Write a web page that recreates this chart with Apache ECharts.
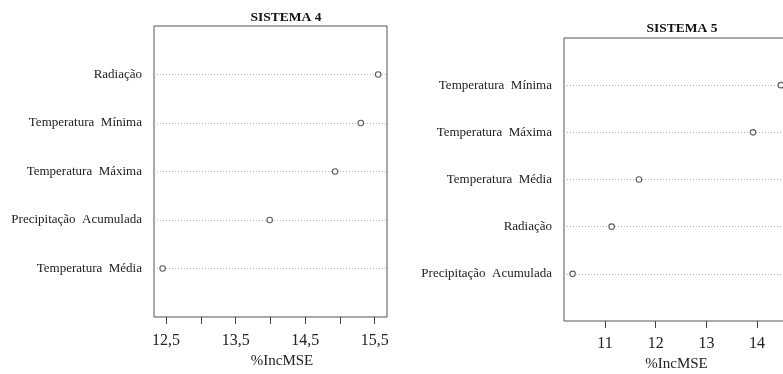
<!DOCTYPE html>
<html>
<head>
<meta charset="utf-8">
<script src="https://cdn.jsdelivr.net/npm/echarts@6/dist/echarts.min.js"></script>
<style>html,body{margin:0;padding:0;background:#fff;}#c{width:783px;height:374px;}</style>
</head>
<body>
<div id="c"></div>
<script>
// Panel 1 (top to bottom)
const cats4 = ['Radiação', 'Temperatura  Mínima', 'Temperatura  Máxima', 'Precipitação  Acumulada', 'Temperatura  Média'];
const vals4 = [15.55, 15.30, 14.93, 13.99, 12.45];
const ticks4 = [12.5, 13, 13.5, 14, 14.5, 15, 15.5];
const labels4 = [12.5, 13.5, 14.5, 15.5];
// Panel 2 (top to bottom)
const cats5 = ['Temperatura  Mínima', 'Temperatura  Máxima', 'Temperatura  Média', 'Radiação', 'Precipitação  Acumulada'];
const vals5 = [14.47, 13.92, 11.67, 11.13, 10.36];
const ticks5 = [11, 12, 13, 14];
const labels5 = [11, 12, 13, 14];

const font = '"Liberation Serif", "DejaVu Serif", serif';
const fmtNum = v => String(v).replace('.', ',');

function yAxis(idx, cats) {
  const n = cats.length;
  return {
    type: 'value', gridIndex: idx, min: 0, max: n + 1,
    axisLine: { show: false },
    axisTick: { show: false, customValues: cats.map((c, i) => n - i) },
    axisLabel: {
      customValues: cats.map((c, i) => n - i),
      formatter: v => cats[n - v] || '',
      fontFamily: font, fontSize: 13, color: '#222', margin: 12
    },
    splitLine: { show: true, lineStyle: { type: [1, 2], color: '#b0b0b0', width: 1 } }
  };
}
function xAxis(idx, min, max, ticks, labels, labelMargin, nameGap, namePad) {
  return {
    type: 'value', gridIndex: idx, min: min, max: max,
    name: '%IncMSE', nameLocation: 'middle', nameGap: nameGap,
    nameTextStyle: { fontFamily: font, fontSize: 15, color: '#222', padding: namePad },
    axisLine: { show: false },
    axisTick: { show: true, inside: false, length: 7, customValues: ticks, lineStyle: { color: '#444', width: 1 } },
    axisLabel: { customValues: labels, formatter: fmtNum, fontFamily: font, fontSize: 16, color: '#222', margin: labelMargin },
    splitLine: { show: false }
  };
}

const chart = echarts.init(document.getElementById('c'), null, { renderer: 'canvas' });
chart.setOption({
  backgroundColor: '#fff',
  animation: false,
  title: [
    { text: 'SISTEMA 4', left: 281, top: 6, textAlign: 'center',
      textStyle: { fontFamily: font, fontSize: 13.5, fontWeight: 'bold', color: '#111' } },
    { text: 'SISTEMA 5', left: 677, top: 17, textAlign: 'center',
      textStyle: { fontFamily: font, fontSize: 13.5, fontWeight: 'bold', color: '#111' } }
  ],
  grid: [
    { left: 154, top: 26, width: 233, height: 291, show: true, borderColor: '#555', borderWidth: 1,
      backgroundColor: 'transparent', outerBoundsMode: 'none', containLabel: false },
    { left: 564, top: 38, width: 225, height: 283, show: true, borderColor: '#555', borderWidth: 1,
      backgroundColor: 'transparent', outerBoundsMode: 'none', containLabel: false }
  ],
  xAxis: [
    xAxis(0, 12.326, 15.677, ticks4, labels4, 16, 37, [0, 0, 0, 23]),
    xAxis(1, 10.19, 14.63, ticks5, labels5, 15, 34, [0, 0, 0, 0])
  ],
  yAxis: [yAxis(0, cats4), yAxis(1, cats5)],
  series: [
    { type: 'scatter', xAxisIndex: 0, yAxisIndex: 0, symbol: 'circle', symbolSize: 5.5,
      itemStyle: { color: '#fff', borderColor: '#333', borderWidth: 1.1 },
      data: vals4.map((v, i) => [v, cats4.length - i]) },
    { type: 'scatter', xAxisIndex: 1, yAxisIndex: 1, symbol: 'circle', symbolSize: 5.5,
      itemStyle: { color: '#fff', borderColor: '#333', borderWidth: 1.1 },
      data: vals5.map((v, i) => [v, cats5.length - i]) }
  ]
});
</script>
</body>
</html>
